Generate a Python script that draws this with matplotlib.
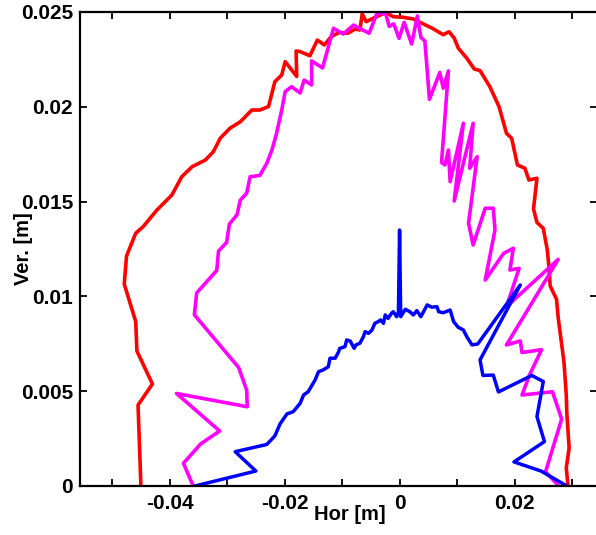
import matplotlib
matplotlib.use('Agg')
import matplotlib.pyplot as plt

# horizontal / vertical trajectories [m]
red_x = [-0.0450, -0.0455, -0.0430, -0.0457, -0.0459, -0.0479, -0.0475, -0.0459, -0.0446, -0.0422,
         -0.0396, -0.0379, -0.0361, -0.0338, -0.0324, -0.0312, -0.0295, -0.0277, -0.0257, -0.0243,
         -0.0228, -0.0217, -0.0205, -0.0199, -0.0179, -0.0180, -0.0173, -0.0156, -0.0143, -0.0131,
         -0.0119, -0.0105, -0.0090, -0.0077, -0.0069, -0.0065, -0.0058, -0.0043, -0.0024, -0.0011,
         0.0004, 0.0024, 0.0044, 0.0057, 0.0076, 0.0086, 0.0095, 0.0102, 0.0117, 0.0130,
         0.0140, 0.0157, 0.0173, 0.0186, 0.0195, 0.0205, 0.0218, 0.0225, 0.0239, 0.0233,
         0.0239, 0.0250, 0.0257, 0.0260, 0.0262, 0.0273, 0.0276, 0.0286, 0.0290, 0.0291,
         0.0295, 0.0290, 0.0293]
red_y = [0.0, 0.00427, 0.00538, 0.00712, 0.00867, 0.01065, 0.01213, 0.01333, 0.01368, 0.01456,
         0.01535, 0.01631, 0.01684, 0.01719, 0.01763, 0.01834, 0.01887, 0.01921, 0.01983, 0.01983,
         0.02001, 0.02132, 0.02168, 0.02238, 0.02160, 0.02294, 0.02291, 0.02269, 0.02352, 0.02326,
         0.02370, 0.02392, 0.02388, 0.02410, 0.02405, 0.02490, 0.02449, 0.02471, 0.02497, 0.02475,
         0.02473, 0.02463, 0.02433, 0.02414, 0.02380, 0.02396, 0.02363, 0.02310, 0.02256, 0.02199,
         0.02191, 0.02106, 0.02001, 0.01860, 0.01834, 0.01693, 0.01676, 0.01614, 0.01623, 0.01461,
         0.01390, 0.01359, 0.01245, 0.01150, 0.01055, 0.00986, 0.00886, 0.00654, 0.00480, 0.00383,
         0.00200, 0.00095, 0.0]

mag_x = [-0.0359, -0.0376, -0.0346, -0.0313, -0.0388, -0.0265, -0.0266, -0.0280, -0.0357, -0.0353,
         -0.0318, -0.0315, -0.0301, -0.0296, -0.0283, -0.0277, -0.0266, -0.0260, -0.0243, -0.0231,
         -0.0222, -0.0214, -0.0205, -0.0199, -0.0188, -0.0173, -0.0166, -0.0153, -0.0153, -0.0134,
         -0.0115, -0.0098, -0.0080, -0.0070, -0.0053, -0.0039, -0.0024, -0.0018, -0.0010, -0.0001,
         0.0008, 0.0021, 0.0031, 0.0037, 0.0044, 0.0052, 0.0070, 0.0076, 0.0085, 0.0073,
         0.0079, 0.0085, 0.0088, 0.0111, 0.0095, 0.0128, 0.0122, 0.0135, 0.0120, 0.0128,
         0.0149, 0.0163, 0.0166, 0.0149, 0.0181, 0.0198, 0.0192, 0.0208, 0.0186, 0.0276,
         0.0186, 0.0210, 0.0213, 0.0247, 0.0226, 0.0213, 0.0266, 0.0282, 0.0254, 0.0277]
mag_y = [0.0, 0.00120, 0.00222, 0.00290, 0.00488, 0.00418, 0.00506, 0.00625, 0.00903, 0.01018,
         0.01137, 0.01239, 0.01284, 0.01382, 0.01429, 0.01508, 0.01544, 0.01631, 0.01638, 0.01702,
         0.01772, 0.01860, 0.01983, 0.02080, 0.02106, 0.02073, 0.02141, 0.02115, 0.02242, 0.02205,
         0.02414, 0.02384, 0.02431, 0.02414, 0.02388, 0.02495, 0.02490, 0.02424, 0.02437, 0.02361,
         0.02445, 0.02331, 0.02479, 0.02366, 0.02347, 0.02039, 0.02181, 0.02098, 0.02189, 0.01706,
         0.01693, 0.01772, 0.01605, 0.01913, 0.01503, 0.01913, 0.01676, 0.01737, 0.01386, 0.01271,
         0.01465, 0.01465, 0.01350, 0.01086, 0.01227, 0.01254, 0.01139, 0.01148, 0.00946, 0.01195,
         0.00744, 0.00765, 0.00704, 0.00719, 0.00585, 0.00480, 0.00497, 0.00353, 0.00075, 0.0]

blue_x = [-0.0356, -0.0250, -0.0286, -0.0231, -0.0217, -0.0208, -0.0196, -0.0185, -0.0173, -0.0167,
          -0.0159, -0.0147, -0.0141, -0.0133, -0.0124, -0.0121, -0.0112, -0.0106, -0.0104, -0.0095,
          -0.0092, -0.0086, -0.0079, -0.0076, -0.0069, -0.0063, -0.0060, -0.0054, -0.0048, -0.0043,
          -0.0037, -0.0033, -0.0028, -0.0025, -0.0020, -0.0014, -0.0011, -0.0005, -0.0002, 0.0,
          0.0002, 0.0010, 0.0018, 0.0024, 0.0030, 0.0037, 0.0048, 0.0056, 0.0065, 0.0068,
          0.0076, 0.0088, 0.0094, 0.0102, 0.0111, 0.0117, 0.0126, 0.0136, 0.0210, 0.0140,
          0.0145, 0.0163, 0.0172, 0.0230, 0.0250, 0.0239, 0.0252, 0.0199, 0.0246, 0.0291]
blue_y = [0.0, 0.00079, 0.00181, 0.00219, 0.00264, 0.00327, 0.00380, 0.00392, 0.00436, 0.00480,
          0.00497, 0.00559, 0.00603, 0.00612, 0.00629, 0.00674, 0.00674, 0.00708, 0.00726, 0.00735,
          0.00770, 0.00765, 0.00726, 0.00744, 0.00753, 0.00787, 0.00814, 0.00805, 0.00823, 0.00858,
          0.00867, 0.00876, 0.00858, 0.00902, 0.00884, 0.00911, 0.00919, 0.00893, 0.00919, 0.01350,
          0.00893, 0.00932, 0.00919, 0.00902, 0.00925, 0.00893, 0.00955, 0.00943, 0.00946, 0.00919,
          0.00914, 0.00928, 0.00867, 0.00837, 0.00823, 0.00787, 0.00744, 0.00749, 0.01060, 0.00665,
          0.00583, 0.00585, 0.00496, 0.00583, 0.00551, 0.00366, 0.00234, 0.00127, 0.00079, 0.0]

x_ticks = [-0.05, -0.04, -0.03, -0.02, -0.01, 0, 0.01, 0.02, 0.03]
x_labels = ['', '-0.04', '', '-0.02', '', '0', '', '0.02', '']
y_ticks = [0, 0.005, 0.01, 0.015, 0.02, 0.025]
y_labels = ['0', '0.005', '0.01', '0.015', '0.02', '0.025']

plt.rcParams['font.family'] = ['Liberation Sans', 'DejaVu Sans']
plt.rcParams['font.weight'] = 'bold'

fig = plt.figure(figsize=(5.96, 5.35), dpi=100)
ax = fig.add_axes([0.1342, 0.0916, 0.868, 0.886])

ax.plot(red_x, red_y, color='#ff0000', lw=2.6)
ax.plot(mag_x, mag_y, color='#ff00ff', lw=2.6)
ax.plot(blue_x, blue_y, color='#0000ff', lw=2.5)

ax.set_xlim(-0.0556, 0.0344)
ax.set_ylim(0, 0.025)
ax.set_xticks(x_ticks)
ax.set_xticklabels(x_labels)
ax.set_yticks(y_ticks)
ax.set_yticklabels(y_labels)
ax.tick_params(direction='in', length=5, width=1.3, top=True, right=True,
               labelsize=15, colors='black')
ax.tick_params(axis='y', pad=5)
ax.tick_params(axis='x', pad=6)
for s in ax.spines.values():
    s.set_linewidth(1.6)

ax.set_xlabel('Hor [m]', fontsize=14.5, fontweight='bold')
ax.set_ylabel('Ver. [m]', fontsize=14.5, fontweight='bold')
ax.xaxis.set_label_coords(0.522, -0.04)
ax.yaxis.set_label_coords(-0.09, 0.5)

fig.savefig('out.png', dpi=100)
